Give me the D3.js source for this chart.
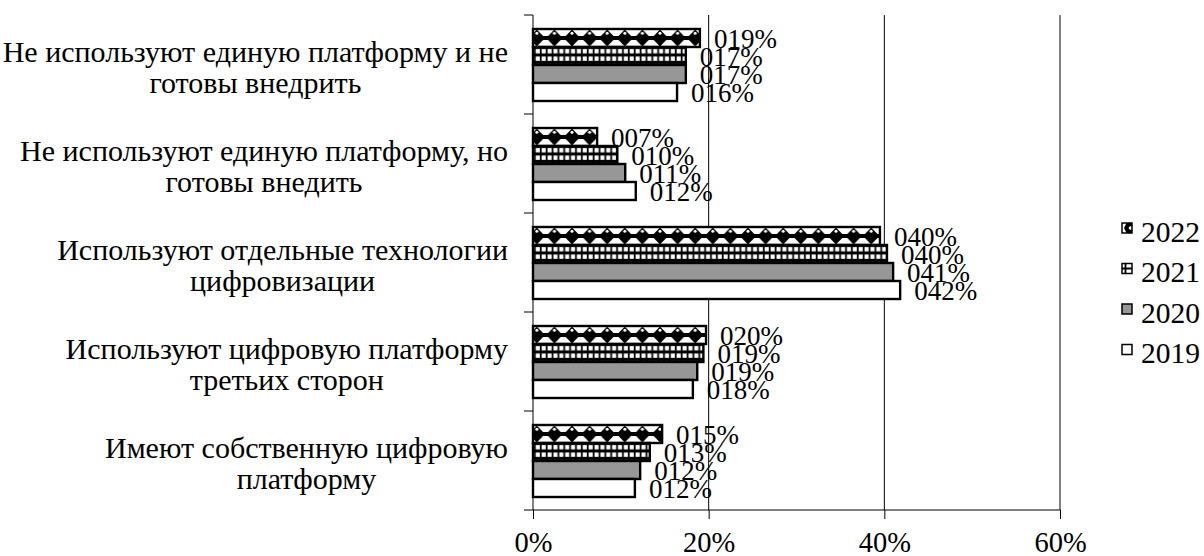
<!DOCTYPE html>
<html>
	<head>
		<meta charset="utf-8"/>
		<script type="text/javascript" src="https://cdn.jsdelivr.net/npm/d3@7"></script>
		<style>
			body {
				margin:0;
				background:#fff;
			}
			svg text {
				font-family:"Liberation Serif", "DejaVu Serif", "Times New Roman", serif;
				fill:#000;
			}
			.cat_label {
				font-size:30px;
				text-anchor:middle;
			}
			.val_label {
				font-size:27px;
				text-anchor:start;
			}
			.axis_label {
				font-size:28.5px;
				text-anchor:middle;
			}
			.legend_label {
				font-size:29.5px;
			}
		</style>
	</head>
	<body>
		<script>
			// categories top to bottom, each split in lines as in the picture
			var categories = [
				["Не используют единую платформу и не", "готовы внедрить"],
				["Не используют единую платформу, но", "готовы внедить"],
				["Используют отдельные технологии", "цифровизации"],
				["Используют цифровую платформу", "третьих сторон"],
				["Имеют собственную цифровую", "платформу"]
			];
			var years = ["2022", "2021", "2020", "2019"];
			// values in percent, per category
			var values_2022 = [19.0, 7.3, 39.5, 19.7, 14.7];
			var values_2021 = [17.4, 9.6, 40.3, 19.4, 13.3];
			var values_2020 = [17.4, 10.5, 41.0, 18.7, 12.2];
			var values_2019 = [16.4, 11.7, 41.8, 18.2, 11.6];
			var tick_values = [0, 20, 40, 60];

			var width = 1204;
			var height = 556;
			var plot_left = 533;
			var plot_right = 1060;
			var plot_top = 15;
			var plot_bottom = 510;

			var series = {
				"2022": values_2022,
				"2021": values_2021,
				"2020": values_2020,
				"2019": values_2019
			};

			var svg = d3.select("body").append("svg")
				.attr("width", width)
				.attr("height", height);

			var defs = svg.append("defs");
			// diamond pattern for 2022
			var p22 = defs.append("pattern")
				.attr("id", "pat2022")
				.attr("patternUnits", "userSpaceOnUse")
				.attr("width", 17.6)
				.attr("height", 18);
			p22.append("rect").attr("width", 17.6).attr("height", 18).attr("fill", "#fff");
			p22.append("rect").attr("x", 0).attr("y", 7).attr("width", 17.6).attr("height", 4).attr("fill", "#000");
			p22.append("path")
				.attr("d", "M8.8,0.5 L17,9 L8.8,17.5 L0.6,9 Z")
				.attr("fill", "#000");
			p22.append("circle").attr("cx", 8.8).attr("cy", 4.2).attr("r", 1.5).attr("fill", "#fff");
			// small grid pattern for 2021
			var p21 = defs.append("pattern")
				.attr("id", "pat2021")
				.attr("patternUnits", "userSpaceOnUse")
				.attr("width", 5.87)
				.attr("height", 7.5);
			p21.append("rect").attr("width", 5.87).attr("height", 7.5).attr("fill", "#000");
			p21.append("rect").attr("x", 1.6).attr("y", 2).attr("width", 4.1).attr("height", 4.4).attr("fill", "#fff");
			// legend swatches
			var l22 = defs.append("pattern")
				.attr("id", "leg2022")
				.attr("patternUnits", "objectBoundingBox")
				.attr("patternContentUnits", "objectBoundingBox")
				.attr("width", 1)
				.attr("height", 1);
			l22.append("rect").attr("width", 1).attr("height", 1).attr("fill", "#000");
			l22.append("path").attr("d", "M0,0 L0.45,0 L0.2,0.5 L0.45,1 L0,1 Z").attr("fill", "#fff");
			l22.append("circle").attr("cx", 0.85).attr("cy", 0.5).attr("r", 0.18).attr("fill", "#fff");
			var l21 = defs.append("pattern")
				.attr("id", "leg2021")
				.attr("patternUnits", "objectBoundingBox")
				.attr("patternContentUnits", "objectBoundingBox")
				.attr("width", 1)
				.attr("height", 1);
			l21.append("rect").attr("width", 1).attr("height", 1).attr("fill", "#fff");
			l21.append("path").attr("d", "M0.35,0 V1 M0,0.5 H1").attr("stroke", "#000").attr("stroke-width", 0.18);

			var fills = {
				"2022": "url(#pat2022)",
				"2021": "url(#pat2021)",
				"2020": "#979797",
				"2019": "#fff"
			};
			var legend_fills = {
				"2022": "url(#leg2022)",
				"2021": "url(#leg2021)",
				"2020": "#979797",
				"2019": "#fff"
			};

			var x = d3.scaleLinear()
				.domain([0, 60])
				.range([plot_left, plot_right]);

			var y = d3.scaleBand()
				.domain(d3.range(categories.length))
				.range([plot_top, plot_bottom]);

			var y_inner = d3.scaleBand()
				.domain(years)
				.range([14, 86]);

			// gridlines
			svg.append("g")
				.selectAll("line")
				.data(tick_values.slice(1))
				.join("line")
				.attr("x1", d => x(d))
				.attr("x2", d => x(d))
				.attr("y1", plot_top)
				.attr("y2", plot_bottom)
				.attr("stroke", "#000")
				.attr("stroke-width", 1);

			// x axis
			var x_axis = svg.append("g")
				.attr("transform", "translate(0," + plot_bottom + ")")
				.call(d3.axisBottom(x).tickValues(tick_values).tickSize(9).tickSizeOuter(0).tickFormat(d => d + "%"));
			x_axis.attr("font-family", null).attr("font-size", null);
			x_axis.select(".domain").remove();
			x_axis.append("line")
				.attr("x1", plot_left - 9)
				.attr("x2", plot_right)
				.attr("stroke", "#000");
			x_axis.selectAll(".tick line").attr("stroke", "#000");
			x_axis.selectAll(".tick text")
				.attr("class", "axis_label")
				.attr("y", 42)
				.attr("dy", null);

			// y axis with ticks between categories
			var y_axis = svg.append("g");
			y_axis.append("line")
				.attr("x1", plot_left)
				.attr("x2", plot_left)
				.attr("y1", plot_top)
				.attr("y2", plot_bottom)
				.attr("stroke", "#000");
			y_axis.selectAll(".ytick")
				.data(d3.range(categories.length))
				.join("line")
				.attr("x1", plot_left - 9)
				.attr("x2", plot_left)
				.attr("y1", d => y(d))
				.attr("y2", d => y(d))
				.attr("stroke", "#000");

			// category labels: block right aligned, lines centered in the block
			categories.forEach(function(lines, i) {
				var g = svg.append("g");
				var texts = g.selectAll("text")
					.data(lines)
					.join("text")
					.attr("class", "cat_label")
					.attr("y", (d, j) => y(i) + y.bandwidth() / 2 - 3 + j * 31)
					.text(d => d);
				var block = d3.max(texts.nodes(), n => n.getComputedTextLength());
				texts.attr("x", 508 - block / 2);
			});

			// bars
			categories.forEach(function(lines, i) {
				years.forEach(function(yr) {
					var v = series[yr][i];
					var bar = svg.append("g")
						.attr("transform", "translate(0," + (y(i) + y_inner(yr)) + ")");
					bar.append("rect")
						.attr("x", x(0))
						.attr("y", 0)
						.attr("width", x(v) - x(0))
						.attr("height", y_inner.bandwidth())
						.attr("fill", fills[yr])
						.attr("stroke", "#000")
						.attr("stroke-width", 2.4);
				});
			});

			// value labels
			categories.forEach(function(lines, i) {
				years.forEach(function(yr) {
					var v = series[yr][i];
					svg.append("text")
						.attr("class", "val_label")
						.attr("x", x(v) + 14)
						.attr("y", y(i) + y_inner(yr) + y_inner.bandwidth() + 1)
						.text(String(Math.round(v)).padStart(3, "0") + "%");
				});
			});

			// legend
			var legend = svg.append("g");
			years.forEach(function(yr, k) {
				var cy = 228 + k * 40.5;
				legend.append("rect")
					.attr("x", 1122)
					.attr("y", cy - 5)
					.attr("width", 10)
					.attr("height", 10)
					.attr("fill", legend_fills[yr])
					.attr("stroke", "#000")
					.attr("stroke-width", 1.5);
				legend.append("text")
					.attr("class", "legend_label")
					.attr("x", 1141)
					.attr("y", cy + 13.5)
					.text(yr);
			});
		</script>
	</body>
</html>
